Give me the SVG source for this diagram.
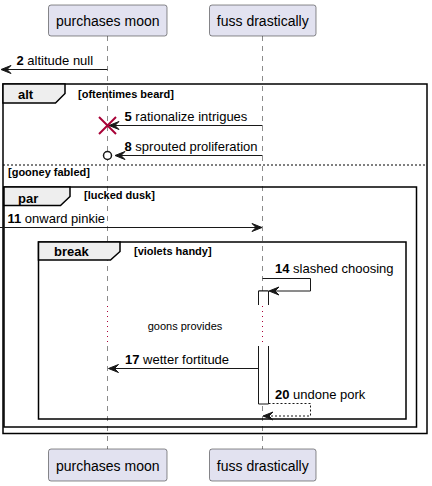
<svg xmlns="http://www.w3.org/2000/svg" width="432" height="486" viewBox="0 0 432 486">
<style>
.part{fill:#E2E2F0;stroke:#181818;stroke-width:0.5}
.ptxt{font-family:"Liberation Sans",Arial,sans-serif;font-size:14px;fill:#000;text-anchor:middle}
.life{stroke:#181818;stroke-width:0.5;stroke-dasharray:5,5;fill:none}
.delay{stroke:#A80036;stroke-width:1;stroke-dasharray:1,4;fill:none}
.frame{fill:none;stroke:#000;stroke-width:1.5}
.tab{fill:#EEEEEE;stroke:#000;stroke-width:1.5}
.ttl{font-family:"Liberation Sans",Arial,sans-serif;font-size:13px;font-weight:bold;fill:#000}
.cond{font-family:"Liberation Sans",Arial,sans-serif;font-size:11px;font-weight:bold;fill:#000}
.msg{stroke:#181818;stroke-width:1;fill:none}
.dash{stroke-dasharray:2,2}
.head{fill:#181818;stroke:#181818;stroke-width:1}
.mt{font-family:"Liberation Sans",Arial,sans-serif;font-size:13px;fill:#000}
.mt tspan.n{font-weight:bold}
.act{fill:#FFFFFF;stroke:#181818;stroke-width:1}
.note{font-family:"Liberation Sans",Arial,sans-serif;font-size:11px;fill:#000;text-anchor:middle}
</style>

<g id="lifelines">
  <line class="life" x1="107.5" y1="36" x2="107.5" y2="305"/>
  <line class="life" x1="107.5" y1="346" x2="107.5" y2="449"/>
  <line class="life" x1="262.5" y1="36" x2="262.5" y2="305"/>
  <line class="life" x1="262.5" y1="346" x2="262.5" y2="449"/>
  <line class="delay" x1="107.5" y1="306" x2="107.5" y2="346"/>
  <line class="delay" x1="262.5" y1="306" x2="262.5" y2="346"/>
</g>

<g id="frame-alt">
  <rect class="frame" x="3" y="84" width="424" height="349.5"/>
  <polygon class="tab" points="3,84 65,84 65,93.5 55.5,103 3,103"/>
  <text class="ttl" x="18" y="99">alt</text>
  <text class="cond" x="78" y="98">[oftentimes beard]</text>
  <line x1="3" y1="165" x2="427" y2="165" stroke="#000" stroke-width="1" stroke-dasharray="2,2"/>
  <text class="cond" x="8" y="176">[gooney fabled]</text>
</g>

<g id="frame-par">
  <rect class="frame" x="4" y="187" width="412.5" height="240"/>
  <polygon class="tab" points="4,187 70,187 70,196.5 60.5,205.5 4,205.5"/>
  <text class="ttl" x="18" y="202.5">par</text>
  <text class="cond" x="84" y="199">[lucked dusk]</text>
</g>

<g id="frame-break">
  <rect class="frame" x="38.5" y="242" width="367.5" height="177"/>
  <polygon class="tab" points="38.5,242 120,242 120,251.5 110.5,260 38.5,260"/>
  <text class="ttl" x="54" y="256">break</text>
  <text class="cond" x="134" y="255">[violets handy]</text>
</g>

<g id="activation">
  <path class="act" d="M258.5,305 V291 H268.5 V305" />
  <rect x="258.5" y="291" width="10" height="14" fill="#FFFFFF" stroke="none"/>
  <line class="act" x1="258.5" y1="291" x2="258.5" y2="305"/>
  <line class="act" x1="268.5" y1="291" x2="268.5" y2="305"/>
  <line class="act" x1="258.5" y1="291" x2="268.5" y2="291"/>
  <path class="act" d="M258.5,346 V404 H268.5 V346"/>
</g>

<g id="delay-note">
  <text class="note" x="185" y="329.5">goons provides</text>
</g>

<g id="connectors">
  <!-- 2 -->
  <line class="msg" x1="107.5" y1="69.5" x2="2" y2="69.5"/>
  <polygon class="head" points="1,69.5 11,65.5 7,69.5 11,73.5"/>
  <text class="mt" x="16.5" y="64.5"><tspan class="n">2</tspan> altitude null</text>
  <!-- 5 -->
  <line class="msg" x1="262.5" y1="125.5" x2="110" y2="125.5"/>
  <polygon class="head" points="109,125.5 119,121.5 115,125.5 119,129.5"/>
  <g stroke="#A80036" stroke-width="2"><line x1="99" y1="117" x2="116" y2="134"/><line x1="116" y1="117" x2="99" y2="134"/></g>
  <text class="mt" x="124.5" y="120.5"><tspan class="n">5</tspan> rationalize intrigues</text>
  <!-- 8 -->
  <line class="msg" x1="262.5" y1="155.5" x2="116" y2="155.5"/>
  <polygon class="head" points="115,155.5 125,151.5 121,155.5 125,159.5"/>
  <circle cx="107.5" cy="155.5" r="4" fill="#FFFFFF" stroke="#181818" stroke-width="1.5"/>
  <text class="mt" x="124.5" y="150.5"><tspan class="n">8</tspan> sprouted proliferation</text>
  <!-- 11 -->
  <line class="msg" x1="0" y1="227.5" x2="261" y2="227.5"/>
  <polygon class="head" points="262,227.5 252,223.5 256,227.5 252,231.5"/>
  <text class="mt" x="7.5" y="223"><tspan class="n">11</tspan> onward pinkie</text>
  <!-- 14 -->
  <polyline class="msg" points="262.5,278.5 310.5,278.5 310.5,291 270,291"/>
  <polygon class="head" points="269,291 279,287 275,291 279,295"/>
  <text class="mt" x="275" y="272.5"><tspan class="n">14</tspan> slashed choosing</text>
  <!-- 17 -->
  <line class="msg" x1="258.5" y1="368.5" x2="109" y2="368.5"/>
  <polygon class="head" points="108.5,368.5 118.5,364.5 114.5,368.5 118.5,372.5"/>
  <text class="mt" x="125" y="363.5"><tspan class="n">17</tspan> wetter fortitude</text>
  <!-- 20 -->
  <polyline class="msg dash" points="268.5,403.5 310.5,403.5 310.5,416 264,416"/>
  <polygon class="head" points="263,416 273,412 269,416 273,420"/>
  <text class="mt" x="275" y="398.5"><tspan class="n">20</tspan> undone pork</text>
</g>

<g id="p-purchases-moon">
  <rect class="part" x="48.5" y="5" width="118.5" height="31" rx="2.5"/>
  <text class="ptxt" x="107.75" y="26">purchases moon</text>
</g>
<g id="p-fuss-drastically">
  <rect class="part" x="209.5" y="5" width="106.5" height="31" rx="2.5"/>
  <text class="ptxt" x="262.75" y="26">fuss drastically</text>
</g>
<g id="p-purchases-moon-bottom">
  <rect class="part" x="48.5" y="449" width="118.5" height="32" rx="2.5"/>
  <text class="ptxt" x="107.75" y="470.5">purchases moon</text>
</g>
<g id="p-fuss-drastically-bottom">
  <rect class="part" x="209.5" y="449" width="106.5" height="32" rx="2.5"/>
  <text class="ptxt" x="262.75" y="470.5">fuss drastically</text>
</g>
</svg>
